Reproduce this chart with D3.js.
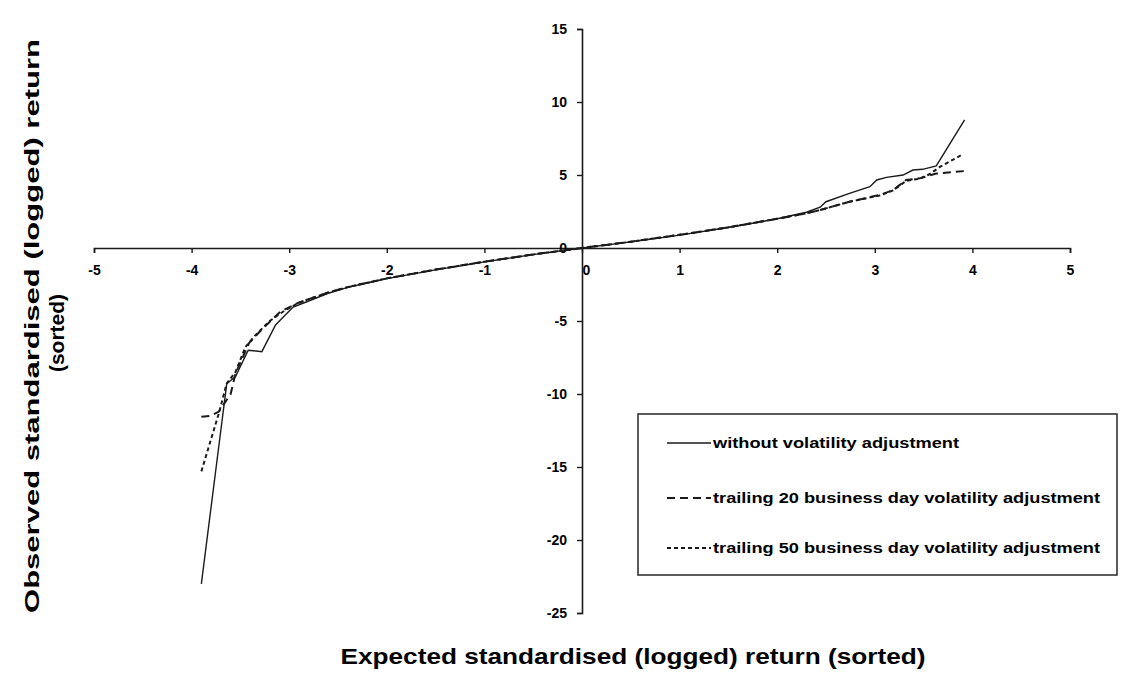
<!DOCTYPE html>
<html><head><meta charset="utf-8">
<script src="https://cdn.jsdelivr.net/npm/d3@7"></script>
<style>body{margin:0;background:#fff}svg{display:block}</style>
</head><body><svg id="c" width="1129" height="686"></svg>
<script>
const xTicks = [-5,-4,-3,-2,-1,0,1,2,3,4,5];
const yTicks = [-25,-20,-15,-10,-5,0,5,10,15];
const seriesNames = ["without volatility adjustment","trailing 20 business day volatility adjustment","trailing 50 business day volatility adjustment"];

const xNoAdj = [-3.90,-3.64,-3.55,-3.42,-3.28,-3.14,-2.96,-2.82,-2.6,-2.4,-2.2,-2.0,-1.5,-1.0,-0.5,0,0.5,1.0,1.5,2.0,2.3,2.44,2.50,2.74,2.95,3.02,3.12,3.29,3.39,3.49,3.63,3.92];
const yNoAdj = [-23.0,-9.3,-8.8,-7.0,-7.1,-5.27,-4.05,-3.68,-3.1,-2.7,-2.4,-2.1,-1.5,-0.95,-0.45,0,0.42,0.88,1.4,2.0,2.45,2.79,3.17,3.74,4.2,4.66,4.84,5.0,5.34,5.39,5.62,8.77];

const x20 = [-3.90,-3.81,-3.72,-3.60,-3.55,-3.41,-3.27,-3.09,-2.92,-2.8,-2.6,-2.4,-2.2,-2.0,-1.5,-1.0,-0.5,0,0.5,1.0,1.5,2.0,2.3,2.44,2.74,3.05,3.19,3.32,3.46,3.63,3.92];
const y20 = [-11.55,-11.5,-11.2,-10.0,-8.6,-6.5,-5.5,-4.36,-3.79,-3.5,-3.05,-2.68,-2.38,-2.08,-1.48,-0.94,-0.44,0,0.43,0.9,1.42,2.0,2.38,2.6,3.17,3.63,3.97,4.66,4.77,5.1,5.27];

const x50 = [-3.90,-3.72,-3.64,-3.55,-3.45,-3.35,-3.2,-3.05,-2.9,-2.8,-2.6,-2.4,-2.2,-2.0,-1.5,-1.0,-0.5,0,0.5,1.0,1.5,2.0,2.3,2.44,2.74,3.05,3.19,3.32,3.46,3.56,3.67,3.89];
const y50 = [-15.3,-11.3,-9.27,-8.5,-6.8,-6.0,-5.0,-4.3,-3.75,-3.5,-3.05,-2.68,-2.38,-2.08,-1.48,-0.94,-0.44,0,0.43,0.9,1.42,2.0,2.38,2.6,3.17,3.6,3.95,4.6,4.75,5.05,5.57,6.37];

const xTitle = "Expected standardised (logged) return (sorted)";
const yTitle1 = "Observed standardised (logged) return";
const yTitle2 = "(sorted)";

const svg = d3.select("#c");
const x = d3.scaleLinear().domain([-5,5]).range([94,1070]);
const y = d3.scaleLinear().domain([-25,15]).range([613,29]);
const FONT = "'Liberation Sans', Arial, sans-serif";
const INK = "#1a1a1a";
const fmt = d => String(d);

// x axis at y=0
const gx = svg.append("g").attr("transform",`translate(0,${y(0)})`)
  .call(d3.axisBottom(x).tickValues(xTicks).tickSize(5).tickPadding(12).tickFormat(fmt));
gx.select(".domain").attr("stroke",INK).attr("stroke-width",1.6);
gx.selectAll(".tick line").attr("stroke",INK).attr("stroke-width",1.4);
gx.selectAll(".tick text").attr("font-family",FONT).attr("font-weight","bold").attr("font-size",14).attr("fill","#000")
  .attr("dx",d=>d===0?4:0);

// y axis at x=0
const gy = svg.append("g").attr("transform",`translate(${x(0)},0)`)
  .call(d3.axisLeft(y).tickValues(yTicks).tickSize(5).tickPadding(10).tickFormat(fmt));
gy.select(".domain").attr("stroke",INK).attr("stroke-width",1.6);
gy.selectAll(".tick line").attr("stroke",INK).attr("stroke-width",1.4);
gy.selectAll(".tick text").attr("font-family",FONT).attr("font-weight","bold").attr("font-size",14).attr("fill","#000");

const line = d3.line().x(d=>x(d[0])).y(d=>y(d[1]));
const series = [
  {name:seriesNames[0], xs:xNoAdj, ys:yNoAdj, dash:null, w:1.4},
  {name:seriesNames[1], xs:x20, ys:y20, dash:"8,5", w:2},
  {name:seriesNames[2], xs:x50, ys:y50, dash:"4,3", w:2}
];
series.forEach(s=>{
  svg.append("path").datum(d3.zip(s.xs,s.ys)).attr("d",line)
    .attr("fill","none").attr("stroke",INK).attr("stroke-width",s.w)
    .attr("stroke-dasharray",s.dash);
});

// titles
svg.append("text").attr("x",633).attr("y",664).attr("text-anchor","middle")
  .attr("font-family",FONT).attr("font-weight","bold").attr("font-size",22)
  .attr("textLength",585).attr("lengthAdjust","spacingAndGlyphs").text(xTitle);
svg.append("text").attr("transform","translate(39,326) rotate(-90)").attr("text-anchor","middle")
  .attr("font-family",FONT).attr("font-weight","bold").attr("font-size",21)
  .attr("textLength",574).attr("lengthAdjust","spacingAndGlyphs").text(yTitle1);
svg.append("text").attr("transform","translate(64,333) rotate(-90)").attr("text-anchor","middle")
  .attr("font-family",FONT).attr("font-weight","bold").attr("font-size",21).text(yTitle2);

// legend
const lg = svg.append("g");
lg.append("rect").attr("x",638).attr("y",414).attr("width",479).attr("height",161)
  .attr("fill","#fff").attr("stroke","#333").attr("stroke-width",1.6);
const rowsY = [443,498,548];
const textLens = [246,387,387];
series.forEach((s,i)=>{
  lg.append("line").attr("x1",667).attr("x2",711).attr("y1",rowsY[i]).attr("y2",rowsY[i])
    .attr("stroke",INK).attr("stroke-width",s.w).attr("stroke-dasharray",s.dash);
  lg.append("text").attr("x",713).attr("y",rowsY[i]+5)
    .attr("font-family",FONT).attr("font-weight","bold").attr("font-size",14)
    .attr("textLength",textLens[i]).attr("lengthAdjust","spacingAndGlyphs").text(s.name);
});
</script>
</body></html>
